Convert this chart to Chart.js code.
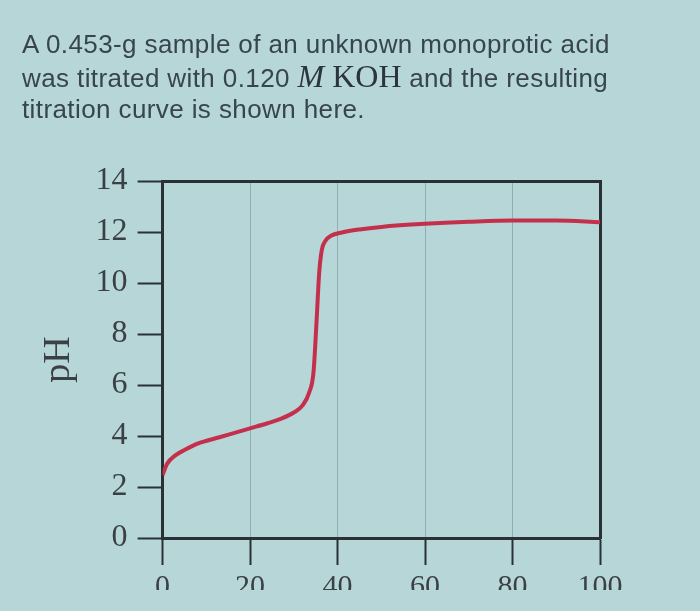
<!DOCTYPE html>
<html>
<head>
<meta charset="utf-8">
<script src="https://cdn.jsdelivr.net/npm/chart.js@4.4.1/dist/chart.umd.min.js"></script>
<style>
  html, body { margin: 0; padding: 0; }
  body {
    width: 700px; height: 611px; overflow: hidden; position: relative;
    background: #b6d6d8;
  }
  #question {
    position: absolute; left: 22px; top: 29px; z-index: 2;
    font-family: "Liberation Sans", Arial, sans-serif;
    font-size: 26px; line-height: 31.5px; letter-spacing: 0.4px;
    color: #38444f;
  }
  #question .sf { font-family: "Liberation Serif", serif; font-size: 32px; letter-spacing: 0; color: #2c343c; }
  #wrap {
    position: absolute; left: 0; top: 0; width: 700px; height: 590px; overflow: hidden;
  }
</style>
</head>
<body>
<div id="question">
  A 0.453-g sample of an unknown monoprotic acid<br>
  was titrated with 0.120 <span class="sf"><i>M</i> KOH</span> and the resulting<br>
  titration curve is shown here.
</div>
<div id="wrap"><canvas id="titration" width="700" height="640"></canvas></div>
<script>
const volumes = [0, 1, 3, 5, 8, 13, 20, 24, 27, 30, 32, 33.5, 34.5, 35.2, 35.8, 36.4, 37.2, 38.5, 41, 45, 50, 60, 70, 80, 90, 100];
const phValues = [2.47, 2.9, 3.25, 3.45, 3.7, 3.95, 4.3, 4.5, 4.67, 4.92, 5.2, 5.7, 6.5, 8.5, 10.4, 11.3, 11.65, 11.85, 11.98, 12.1, 12.2, 12.32, 12.4, 12.45, 12.45, 12.38];
const xTicks = [0, 20, 40, 60, 80, 100];
const yTicks = [0, 2, 4, 6, 8, 10, 12, 14];

const frameColor = "#2b3035";
const labelColor = "#3a4046";
const serif = "'Liberation Serif', 'Times New Roman', serif";

const points = volumes.map((v, i) => ({ x: v, y: phValues[i] }));

// hidden axes on top/right just close the box
const frameAxis = (position, min, max) => ({
  type: "linear", position, min, max,
  ticks: { display: false },
  grid: { drawOnChartArea: false, drawTicks: false },
  border: { color: frameColor, width: 3 }
});

new Chart(document.getElementById("titration"), {
  type: "line",
  data: {
    datasets: [{
      data: points,
      borderColor: "#c4304c",
      borderWidth: 4,
      pointRadius: 0,
      cubicInterpolationMode: "monotone",
      fill: false
    }]
  },
  options: {
    responsive: false,
    animation: false,
    layout: { padding: { top: 181, left: 36, right: 100, bottom: 31 } },
    plugins: { legend: { display: false }, tooltip: { enabled: false } },
    scales: {
      x: {
        type: "linear", position: "bottom", min: 0, max: 100,
        afterBuildTicks: axis => { axis.ticks = xTicks.map(v => ({ value: v })); },
        ticks: { font: { family: serif, size: 30 }, color: labelColor, padding: 4 },
        grid: { color: "rgba(70,100,125,0.35)", lineWidth: 1, tickColor: frameColor, tickWidth: 2, tickLength: 27 },
        border: { color: frameColor, width: 3 }
      },
      y: {
        position: "left", min: 0, max: 14,
        afterBuildTicks: axis => { axis.ticks = yTicks.map(v => ({ value: v })); },
        ticks: { font: { family: serif, size: 32 }, color: labelColor, padding: 10 },
        grid: { drawOnChartArea: false, tickColor: frameColor, tickWidth: 2, tickLength: 25 },
        border: { color: frameColor, width: 3 },
        title: { display: true, text: "pH", font: { family: serif, size: 38 }, color: labelColor, padding: { top: 0, bottom: 4 } }
      },
      x2: frameAxis("top", 0, 100),
      y2: frameAxis("right", 0, 14)
    }
  }
});
</script>
</body>
</html>
